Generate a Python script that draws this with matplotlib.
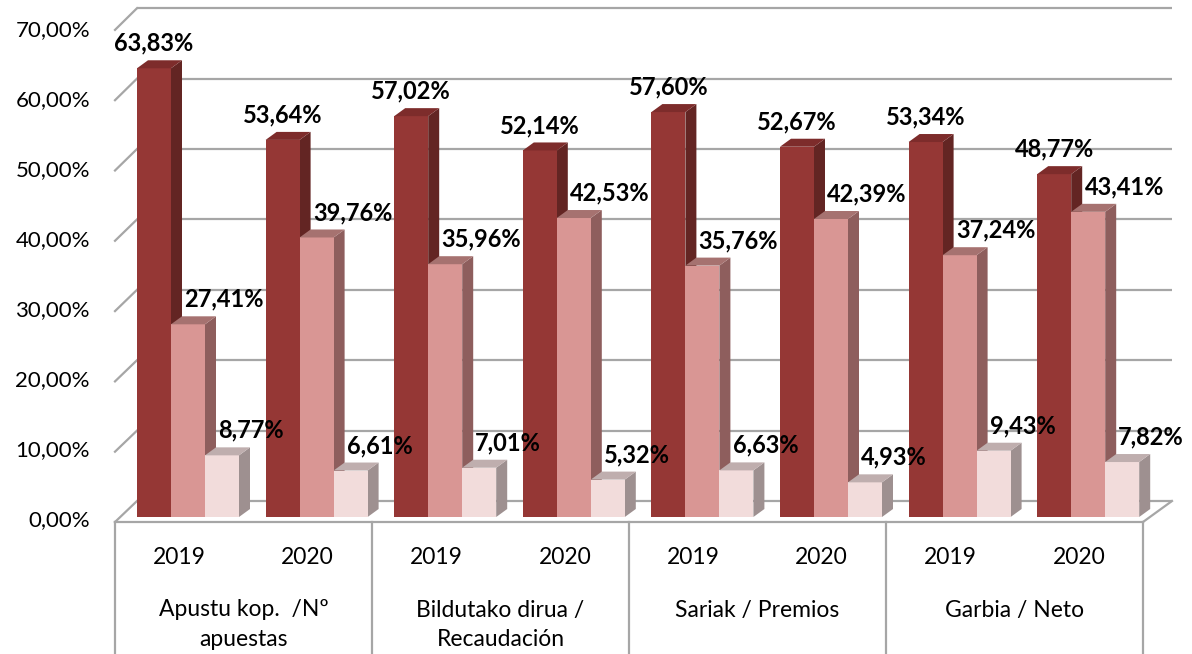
import matplotlib
matplotlib.use("Agg")
import matplotlib.pyplot as plt
from matplotlib.patches import Polygon

# ---------------- data ----------------
categories = ["Apustu kop.  /Nº\napuestas", "Bildutako dirua /\nRecaudación",
              "Sariak / Premios", "Garbia / Neto"]
years = ["2019", "2020"]
series_dark = [63.83, 53.64, 57.02, 52.14, 57.60, 52.67, 53.34, 48.77]
series_pink = [27.41, 39.76, 35.96, 42.53, 35.76, 42.39, 37.24, 43.41]
series_light = [8.77, 6.61, 7.01, 5.32, 6.63, 4.93, 9.43, 7.82]
yticks = [0, 10, 20, 30, 40, 50, 60, 70]

# ---------------- style ----------------
FONT = ['Lato', 'DejaVu Sans']
colors = [  # front, top, side
    ("#953735", "#7d2c2b", "#632523"),
    ("#d99694", "#a67270", "#8e5e5d"),
    ("#f2dcdb", "#bfaeae", "#9e9090"),
]
label_dx_px = [0, 36, 29]
grid_col = "#a6a6a6"

W, H = 1192, 654
fig = plt.figure(figsize=(W / 100, H / 100), dpi=100)
ax = fig.add_axes([0, 0, 1, 1])
ax.set_axis_off()

# vertical scale: value units, base of bars at pixel row 517, 7.03 px per %
BASE_PX, PX_PER = 517.0, 7.03
def vu(px):  # pixel row -> value units
    return (BASE_PX - px) / PX_PER
ax.set_xlim(0, W)
ax.set_ylim(vu(H), vu(0))

def front_y(v):
    return vu(522 - 7.03 * v)
def back_y(v):
    return vu(501 - 7.04 * v)

X_FRONT_L, X_BACK_L = 115, 137
X_FRONT_R, X_BACK_R = 1143, 1172

# back wall gridlines and left wall diagonals
for v in yticks:
    ax.plot([X_BACK_L, X_BACK_R], [back_y(v)] * 2, color=grid_col, lw=1.6, zorder=1,
            solid_capstyle='butt')
    ax.plot([X_FRONT_L, X_BACK_L], [front_y(v), back_y(v)], color=grid_col, lw=1.6, zorder=1)
    ax.text(90, vu(520 - 7.0 * v), f"{v:.2f}".replace('.', ',') + "%", ha='right', va='center',
            fontsize=16, family=FONT, color='#000000')

# floor front edge and right edge
ax.plot([X_FRONT_L, X_FRONT_R], [front_y(0)] * 2, color=grid_col, lw=1.6, zorder=1)
ax.plot([X_FRONT_R, X_BACK_R], [front_y(0), back_y(0)], color=grid_col, lw=1.6, zorder=1)

# category axis boxes
slot = (X_FRONT_R - X_FRONT_L) / 8
for k in range(5):
    x = X_FRONT_L + 2 * slot * k
    ax.plot([x, x], [front_y(0), vu(H + 5)], color=grid_col, lw=1.6, zorder=1)
for i in range(8):
    ax.text(X_FRONT_L + slot * (i + 0.5), vu(558), years[i % 2], ha='center', va='center',
            fontsize=16.5, family=FONT, color='#000000')
for c, name in enumerate(categories):
    for j, line in enumerate(name.split("\n")):
        ax.text(X_FRONT_L + 2 * slot * (c + 0.5), vu(610 + 30 * j), line, ha='center',
                va='center', fontsize=16.5, family=FONT, color='#000000')

# bars
BAR_W = 34
CL_X0, CL_STEP = 137, 128.6
DX, DY = 11, 8 / PX_PER
all_series = [series_dark, series_pink, series_light]
z = 5
for i in range(8):
    for s, ser in enumerate(all_series):
        v = ser[i]
        x0 = CL_X0 + CL_STEP * i + BAR_W * s
        x1 = x0 + BAR_W
        front_c, top_c, side_c = colors[s]
        front = Polygon([(x0, 0), (x1, 0), (x1, v), (x0, v)], closed=True,
                        facecolor=front_c, edgecolor='none', zorder=z)
        side = Polygon([(x1, 0), (x1 + DX, DY), (x1 + DX, v + DY), (x1, v)], closed=True,
                       facecolor=side_c, edgecolor='none', zorder=z)
        top = Polygon([(x0, v), (x1, v), (x1 + DX, v + DY), (x0 + DX, v + DY)], closed=True,
                      facecolor=top_c, edgecolor='none', zorder=z)
        for p in (side, front, top):
            ax.add_patch(p)
        z += 1
        ax.annotate(f"{v:.2f}".replace('.', ',') + "%", xy=((x0 + x1) / 2, v),
                    xytext=(label_dx_px[s] * 0.72, 25 * 0.72), textcoords='offset points',
                    ha='center', va='center', fontsize=17, fontweight='bold',
                    family=FONT, color='#000000', zorder=100)

fig.savefig("out.png", dpi=100)
